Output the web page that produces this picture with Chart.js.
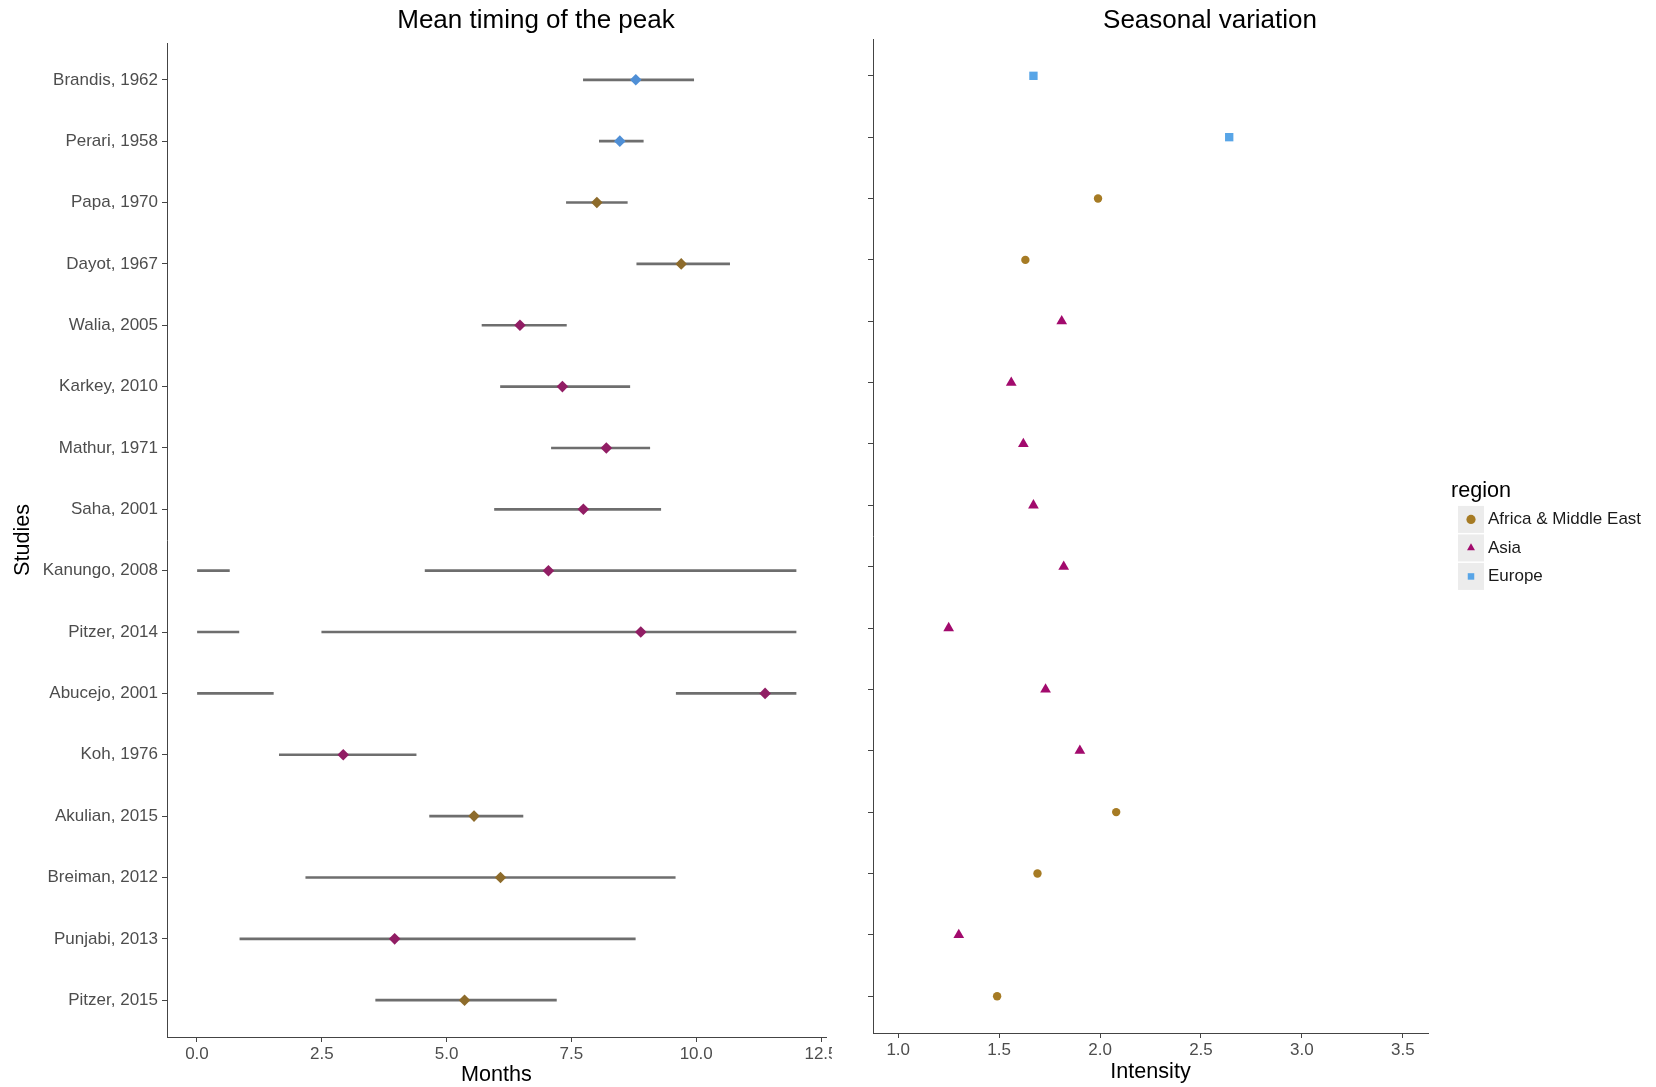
<!DOCTYPE html>
<html>
<head>
<meta charset="utf-8">
<title>Peak timing and seasonal variation</title>
<script src="https://cdn.jsdelivr.net/npm/chart.js@4.4.0/dist/chart.umd.min.js"></script>
<style>
  html, body { margin: 0; padding: 0; background: #fff; }
  #wrap { position: relative; width: 1656px; height: 1087px; overflow: hidden; }
  #peakBox { position: absolute; left: 0; top: 0; }
  #intensityBox { position: absolute; left: 832px; top: 0; background: #fff; }
  canvas { display: block; }
</style>
</head>
<body>
<div id="wrap">
  <div id="peakBox"><canvas id="peakChart" width="845" height="1087"></canvas></div>
  <div id="intensityBox"><canvas id="intensityChart" width="824" height="1087"></canvas></div>
</div>
<script>
const studies = ['Brandis, 1962', 'Perari, 1958', 'Papa, 1970', 'Dayot, 1967', 'Walia, 2005', 'Karkey, 2010',
  'Mathur, 1971', 'Saha, 2001', 'Kanungo, 2008', 'Pitzer, 2014', 'Abucejo, 2001', 'Koh, 1976',
  'Akulian, 2015', 'Breiman, 2012', 'Punjabi, 2013', 'Pitzer, 2015'];
const region = ['Europe', 'Europe', 'Africa & Middle East', 'Africa & Middle East', 'Asia', 'Asia',
  'Asia', 'Asia', 'Asia', 'Asia', 'Asia', 'Asia',
  'Africa & Middle East', 'Africa & Middle East', 'Asia', 'Africa & Middle East'];
// mean month of the peak with its interval; upper ends past 12 run on into the next year
const peak   = [8.79, 8.47, 8.01, 9.70, 6.47, 7.32, 8.20, 7.74, 7.04, 8.89, 11.38, 2.93, 5.55, 6.08, 3.96, 5.36];
const peakLo = [7.74, 8.06, 7.40, 8.81, 5.71, 6.08, 7.10, 5.96, 4.57, 2.50, 9.60, 1.65, 4.66, 2.18, 0.86, 3.58];
const peakHi = [9.95, 8.94, 8.62, 10.67, 7.40, 8.67, 9.07, 9.29, 12.65, 12.84, 13.53, 4.39, 6.53, 9.58, 8.78, 7.20];
const intensity = [1.67, 2.64, 1.99, 1.63, 1.81, 1.56, 1.62, 1.67, 1.82, 1.25, 1.73, 1.90, 2.08, 1.69, 1.30, 1.49];

const regions = ['Africa & Middle East', 'Asia', 'Europe'];
const monthTicks = [0, 2.5, 5, 7.5, 10, 12.5];
const intensityTicks = [1, 1.5, 2, 2.5, 3, 3.5];

const peakColors = { 'Africa & Middle East': '#8d6b2b', 'Asia': '#911d64', 'Europe': '#4f8fd6' };
const dotColors = { 'Africa & Middle East': '#a67b24', 'Asia': '#a20a6d', 'Europe': '#58a5e7' };
const dotStyles = { 'Africa & Middle East': 'circle', 'Asia': 'triangle', 'Europe': 'rect' };
const dotSizes = { 'Africa & Middle East': 4.2, 'Asia': 6.2, 'Europe': 5.9 };

const axisColor = '#444444';
const FONT = '"Liberation Sans", Arial, Helvetica, sans-serif';
Chart.defaults.font.family = FONT;
Chart.defaults.color = '#4d4d4d';

// interval segments, split where they wrap round past December
const segments = [];
studies.forEach((s, i) => {
  segments.push({ x: [peakLo[i], Math.min(peakHi[i], 12)], y: i });
  if (peakHi[i] > 12) segments.push({ x: [0, peakHi[i] - 12], y: i });
});

// panel heading drawn at a fixed spot above the plot
const panelTitle = {
  id: 'panelTitle',
  afterDraw(chart, args, opts) {
    const ctx = chart.ctx;
    ctx.save();
    ctx.font = '26px ' + FONT;
    ctx.fillStyle = '#000';
    ctx.textAlign = 'center';
    ctx.textBaseline = 'middle';
    ctx.fillText(opts.text, opts.x, opts.y);
    ctx.restore();
  }
};

// moves the legend box and paints grey key tiles behind the symbols
const legendKeys = {
  id: 'legendKeys',
  afterLayout(chart, args, opts) {
    const lg = chart.legend;
    const h = lg.bottom - lg.top;
    lg.left = opts.left;
    lg.right = chart.width;
    lg.width = lg.right - lg.left;
    lg.top = opts.top;
    lg.bottom = opts.top + h;
    lg.height = h;
  },
  beforeDraw(chart, args, opts) {
    const ctx = chart.ctx;
    ctx.save();
    ctx.fillStyle = opts.color;
    chart.legend.legendHitBoxes.forEach(hb => {
      const cx = hb.left + opts.boxWidth / 2;
      const cy = hb.top + hb.height / 2;
      ctx.fillRect(cx - opts.size / 2, cy - opts.size / 2 - 0.5, opts.size, opts.size + 1);
    });
    ctx.restore();
  }
};

function studyAxis(width, showLabels) {
  return {
    type: 'linear',
    reverse: true,
    min: -0.6,
    max: studies.length - 0.4,
    offset: false,
    afterBuildTicks: s => { s.ticks = studies.map((_, i) => ({ value: i })); },
    afterFit: s => { s.width = width; },
    grid: { drawOnChartArea: false, drawTicks: true, tickLength: 5, color: axisColor, offset: false },
    border: { display: true, color: axisColor, width: 1 },
    ticks: {
      autoSkip: false, padding: 4, color: '#4d4d4d', font: { size: 17 },
      callback: v => showLabels ? studies[v] : ''
    },
    title: showLabels ? {
      display: true, text: 'Studies', color: '#000',
      font: { size: 21.6, lineHeight: 1 }, padding: { top: 12, bottom: 0 }
    } : { display: false }
  };
}

function valueAxis(min, max, tickValues, label, height, titlePad) {
  return {
    type: 'linear',
    min: min,
    max: max,
    beginAtZero: false,
    offset: false,
    afterBuildTicks: s => { s.ticks = tickValues.map(v => ({ value: v })); },
    afterFit: s => { s.height = height; },
    grid: { drawOnChartArea: false, drawTicks: true, tickLength: 5, color: axisColor, offset: false },
    border: { display: true, color: axisColor, width: 1 },
    ticks: { autoSkip: false, maxRotation: 0, padding: 2, color: '#4d4d4d', font: { size: 17 },
      callback: v => Number(v).toFixed(1) },
    title: { display: true, text: label, color: '#000',
      font: { size: 21.6, lineHeight: 1 }, padding: { top: 0, bottom: titlePad } }
  };
}

new Chart(document.getElementById('peakChart').getContext('2d'), {
  type: 'scatter',
  data: {
    datasets: [{
      type: 'scatter',
      label: 'Peak',
      data: peak.map((v, i) => ({ x: v, y: i })),
      pointStyle: 'rectRot',
      pointRadius: 5.8,
      pointBackgroundColor: region.map(r => peakColors[r]),
      pointBorderWidth: 0,
      order: 0
    }, {
      type: 'bar',
      label: 'Interval',
      indexAxis: 'y',
      data: segments,
      backgroundColor: '#6e6e6e',
      barThickness: 2,
      grouped: false,
      order: 1
    }]
  },
  options: {
    responsive: false,
    animation: false,
    layout: { padding: { left: 0, top: 43, right: 19, bottom: 0 } },
    scales: {
      x: valueAxis(-0.6, 12.6, monthTicks, 'Months', 50, 1),
      y: studyAxis(167, true)
    },
    plugins: {
      legend: { display: false },
      tooltip: { enabled: false },
      panelTitle: { text: 'Mean timing of the peak', x: 536, y: 21 }
    }
  },
  plugins: [panelTitle]
});

new Chart(document.getElementById('intensityChart').getContext('2d'), {
  type: 'scatter',
  data: {
    datasets: regions.map(r => ({
      label: r,
      data: intensity.map((v, i) => ({ x: v, y: i })).filter((p, i) => region[i] === r),
      pointStyle: dotStyles[r],
      pointRadius: dotSizes[r],
      backgroundColor: dotColors[r],
      borderColor: dotColors[r],
      pointBorderWidth: 0
    }))
  },
  options: {
    responsive: false,
    animation: false,
    layout: { padding: { left: 0, top: 39, right: 78, bottom: 0 } },
    scales: {
      x: valueAxis(0.875, 3.625, intensityTicks, 'Intensity', 54, 4),
      y: studyAxis(41, false)
    },
    plugins: {
      tooltip: { enabled: false },
      legend: {
        position: 'right',
        align: 'start',
        maxWidth: 150,
        title: { display: true, text: 'region', position: 'start', color: '#000',
          font: { size: 21.6, lineHeight: 0.9 }, padding: 0 },
        labels: { usePointStyle: true, boxWidth: 17, boxHeight: 6.5, padding: 11.5,
          color: '#1a1a1a', font: { size: 17 } }
      },
      legendKeys: { left: 619, top: 480, color: '#ececec', size: 26, boxWidth: 17 },
      panelTitle: { text: 'Seasonal variation', x: 378, y: 21 }
    }
  },
  plugins: [panelTitle, legendKeys]
});
</script>
</body>
</html>
